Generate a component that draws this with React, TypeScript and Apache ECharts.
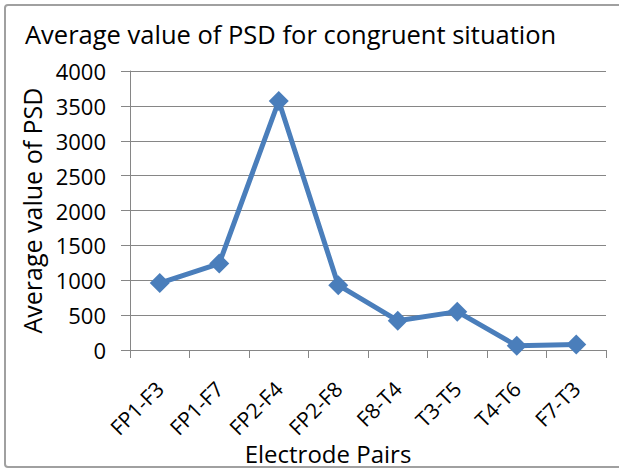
import React, { useEffect, useRef } from "react";
import * as echarts from "echarts";

const categories = ["FP1-F3", "FP1-F7", "FP2-F4", "FP2-F8", "F8-T4", "T3-T5", "T4-T6", "F7-T3"];
const psdValues = [960, 1240, 3570, 930, 420, 550, 60, 80];
const yTicks = { min: 0, max: 4000, interval: 500 };
const titleText = "Average value of PSD for congruent situation";
const yAxisName = "Average value of PSD";
const xAxisName = "Electrode Pairs";

const FONT = "'Open Sans', 'Noto Sans', sans-serif";

export default function App() {
  const ref = useRef<HTMLDivElement>(null);
  useEffect(() => {
    if (!ref.current) return;
    const chart = echarts.init(ref.current, null, { renderer: "svg" });
    chart.setOption({
      animation: false,
      backgroundColor: "#ffffff",
      title: {
        text: titleText,
        left: 20,
        top: 16,
        textStyle: { fontFamily: FONT, fontSize: 25.5, fontWeight: "normal", color: "#000" },
      },
      graphic: [
        {
          type: "rect",
          shape: { x: 5, y: 5, width: 640, height: 462, r: 3 },
          style: { fill: "none", stroke: "#a0a0a0", lineWidth: 2 },
          silent: true,
        },
        {
          type: "text",
          x: 328,
          y: 453,
          style: {
            text: xAxisName,
            fontFamily: FONT,
            fontSize: 24,
            fill: "#000",
            align: "center",
            verticalAlign: "middle",
          },
        },
      ],
      grid: { left: 130, right: 13, top: 71, bottom: 119 },
      xAxis: {
        type: "category",
        data: categories,
        boundaryGap: true,
        axisLine: { lineStyle: { color: "#868686", width: 1 } },
        axisTick: { show: true, length: 8, lineStyle: { color: "#868686" } },
        axisLabel: {
          rotate: 45,
          margin: 35,
          fontFamily: FONT,
          fontSize: 21,
          color: "#000",
        },
      },
      yAxis: {
        type: "value",
        min: yTicks.min,
        max: yTicks.max,
        interval: yTicks.interval,
        name: yAxisName,
        nameLocation: "middle",
        nameGap: 85,
        nameTextStyle: { fontFamily: FONT, fontSize: 25, color: "#000" },
        axisLine: { show: true, lineStyle: { color: "#868686", width: 1 } },
        axisTick: { show: true, length: 9, lineStyle: { color: "#868686" } },
        axisLabel: {
          margin: 24,
          fontFamily: FONT,
          fontSize: 22,
          color: "#000",
          formatter: (v: number) => String(v),
        },
        splitLine: { show: true, lineStyle: { color: "#868686", width: 1 } },
      },
      series: [
        {
          type: "line",
          data: psdValues,
          symbol: "diamond",
          symbolSize: 20,
          lineStyle: { color: "#4a7ebb", width: 5 },
          itemStyle: { color: "#4a7ebb" },
        },
      ],
    });
    return () => chart.dispose();
  }, []);
  return <div ref={ref} style={{ width: 619, height: 469, position: "absolute", left: 0, top: 0 }} />;
}
